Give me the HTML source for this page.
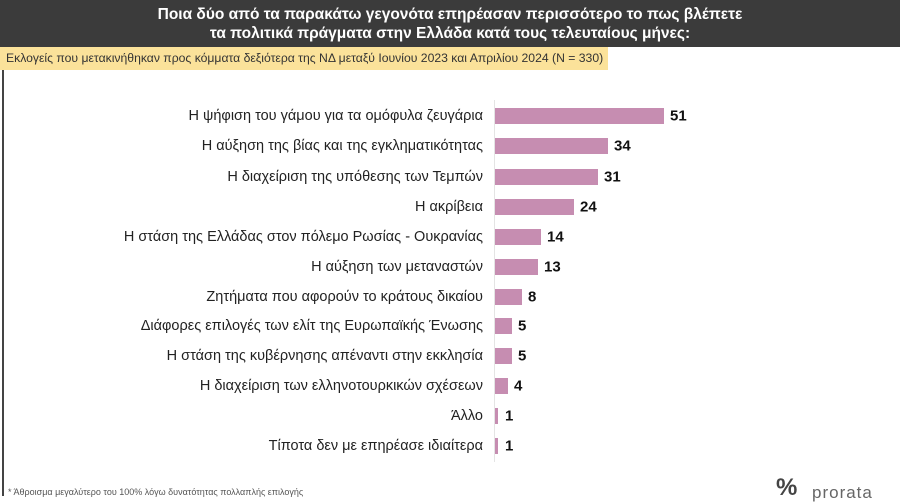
<!DOCTYPE html>
<html><head><meta charset="utf-8"><style>
body{margin:0;width:900px;height:496px;overflow:hidden;background:#fff;font-family:"Liberation Sans","DejaVu Sans",sans-serif;position:relative}
.hdr{position:absolute;left:0;top:0;width:900px;height:47px;background:#3b3b3b;color:#fff;font-weight:bold;font-size:15.5px;line-height:19px;text-align:center;padding-top:5px;box-sizing:border-box}
.ban{position:absolute;left:0;top:47px;width:608px;height:23px;background:#fbe29a;font-size:12.2px;line-height:23px;padding-left:6px;box-sizing:border-box;color:#333;white-space:nowrap}
.lb{position:absolute;left:2px;top:70px;width:2px;height:426px;background:#444}
.lab{position:absolute;right:417px;font-size:14.5px;color:#222;white-space:nowrap;transform:translateY(-50%)}
.bar{position:absolute;left:495px;height:16px;background:#c68db1;transform:translateY(-50%)}
.val{position:absolute;font-size:15px;font-weight:bold;color:#111;transform:translateY(-50%)}
.ax{position:absolute;left:494px;top:100px;width:1px;height:362px;background:#e4e4e4}
</style></head><body>
<div class="hdr">Ποια δύο από τα παρακάτω γεγονότα επηρέασαν περισσότερο το πως βλέπετε<br>τα πολιτικά πράγματα στην Ελλάδα κατά τους τελευταίους μήνες:</div>
<div class="ban">Εκλογείς που μετακινήθηκαν προς κόμματα δεξιότερα της ΝΔ μεταξύ Ιουνίου 2023 και Απριλίου 2024 (N = 330)</div>
<div class="lb"></div>
<div class="ax"></div>
<div class="lab" style="top:116px">Η ψήφιση του γάμου για τα ομόφυλα ζευγάρια</div><div class="bar" style="top:116px;width:169px"></div><div class="val" style="top:116px;left:670px">51</div>
<div class="lab" style="top:146px">Η αύξηση της βίας και της εγκληματικότητας</div><div class="bar" style="top:146px;width:113px"></div><div class="val" style="top:146px;left:614px">34</div>
<div class="lab" style="top:177px">Η διαχείριση της υπόθεσης των Τεμπών</div><div class="bar" style="top:177px;width:103px"></div><div class="val" style="top:177px;left:604px">31</div>
<div class="lab" style="top:207px">Η ακρίβεια</div><div class="bar" style="top:207px;width:79px"></div><div class="val" style="top:207px;left:580px">24</div>
<div class="lab" style="top:237px">Η στάση της Ελλάδας στον πόλεμο Ρωσίας - Ουκρανίας</div><div class="bar" style="top:237px;width:46px"></div><div class="val" style="top:237px;left:547px">14</div>
<div class="lab" style="top:267px">Η αύξηση των μεταναστών</div><div class="bar" style="top:267px;width:43px"></div><div class="val" style="top:267px;left:544px">13</div>
<div class="lab" style="top:297px">Ζητήματα που αφορούν το κράτους δικαίου</div><div class="bar" style="top:297px;width:27px"></div><div class="val" style="top:297px;left:528px">8</div>
<div class="lab" style="top:326px">Διάφορες επιλογές των ελίτ της Ευρωπαϊκής Ένωσης</div><div class="bar" style="top:326px;width:17px"></div><div class="val" style="top:326px;left:518px">5</div>
<div class="lab" style="top:356px">Η στάση της κυβέρνησης απέναντι στην εκκλησία</div><div class="bar" style="top:356px;width:17px"></div><div class="val" style="top:356px;left:518px">5</div>
<div class="lab" style="top:386px">Η διαχείριση των ελληνοτουρκικών σχέσεων</div><div class="bar" style="top:386px;width:13px"></div><div class="val" style="top:386px;left:514px">4</div>
<div class="lab" style="top:416px">Άλλο</div><div class="bar" style="top:416px;width:3px"></div><div class="val" style="top:416px;left:505px">1</div>
<div class="lab" style="top:446px">Τίποτα δεν με επηρέασε ιδιαίτερα</div><div class="bar" style="top:446px;width:3px"></div><div class="val" style="top:446px;left:505px">1</div>
<div style="position:absolute;left:8px;top:487px;font-size:9px;color:#555;white-space:nowrap">* Άθροισμα μεγαλύτερο του 100% λόγω δυνατότητας πολλαπλής επιλογής</div>
<div style="position:absolute;left:776px;top:474px;font-size:24px;color:#444;font-weight:bold">%</div>
<div style="position:absolute;left:812px;top:483px;font-size:17px;color:#666;letter-spacing:1px">prorata</div>
</body></html>
